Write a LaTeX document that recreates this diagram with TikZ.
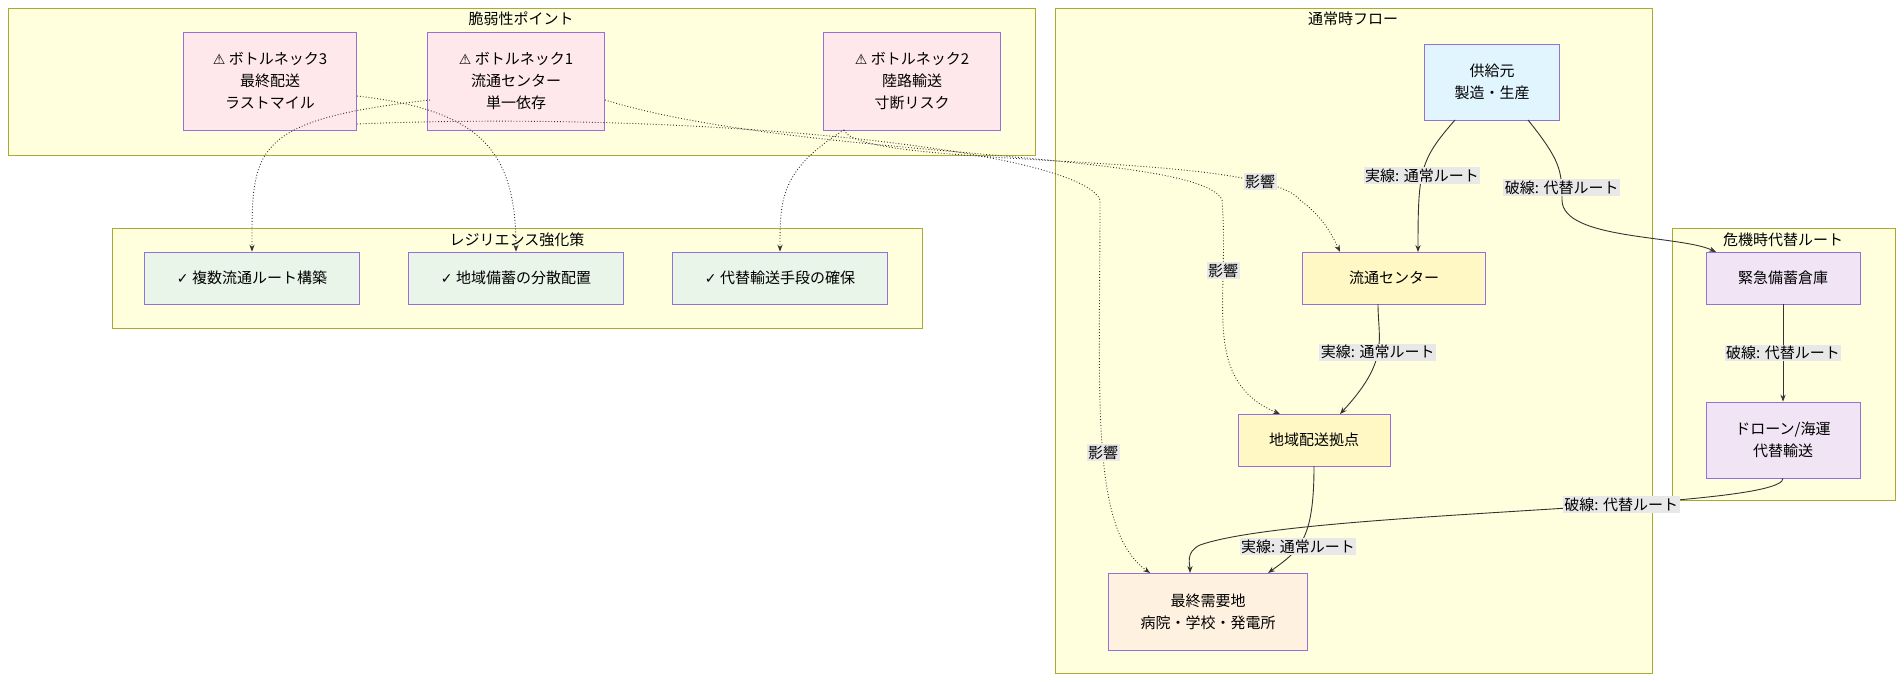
\documentclass[tikz,border=0pt]{standalone}
\usepackage{fontspec}
\setmainfont{Noto Sans CJK JP}
\newfontfamily\symfont{DejaVu Sans}
\usetikzlibrary{arrows.meta}
\definecolor{clfill}{HTML}{FFFFDE}
\definecolor{clline}{HTML}{AAAA33}
\definecolor{ndline}{HTML}{9370DB}
\definecolor{redfill}{HTML}{FFE8EC}
\definecolor{bluefill}{HTML}{E1F5FE}
\definecolor{yelfill}{HTML}{FFF8C5}
\definecolor{orfill}{HTML}{FFF1E0}
\definecolor{purfill}{HTML}{F1E4F5}
\definecolor{grnfill}{HTML}{E8F5E8}
\definecolor{lblfill}{HTML}{E8E8E8}
\newcommand{\warn}{{\symfont\fontsize{14}{16}\selectfont ⚠}}
\newcommand{\chk}{{\symfont\fontsize{14}{16}\selectfont ✓}}
\begin{document}
\begin{tikzpicture}[x=1pt,y=-1pt,
  font=\fontsize{15}{22}\selectfont,
  cluster/.style={draw=clline,fill=clfill,line width=0.8pt},
  ctitle/.style={font=\fontsize{15}{18}\selectfont},
  box/.style={draw=ndline,line width=0.8pt,align=center,inner sep=0pt},
  flow/.style={draw=black!80,line width=0.9pt,-{Stealth[length=7pt]}},
  effect/.style={draw=black!80,line width=0.9pt,dotted,-{Stealth[length=7pt]}},
  lbl/.style={fill=lblfill,inner sep=1.5pt,font=\fontsize{15}{18}\selectfont}]

  \useasboundingbox (0,0) rectangle (1904,682);

  % clusters
  \draw[cluster] (8,8) rectangle (1035,155);
  \node[ctitle] (tw) at (521,19) {脆弱性ポイント};
  \draw[cluster] (1055,8) rectangle (1652,673);
  \node[ctitle] (tn) at (1353,19) {通常時フロー};
  \draw[cluster] (112,228) rectangle (922,328);
  \node[ctitle] (tr) at (517,240) {レジリエンス強化策};
  \draw[cluster] (1672,228) rectangle (1895,500);
  \node[ctitle] (te) at (1783,240) {危機時代替ルート};

  % weak points
  \node[box,fill=redfill,minimum width=173pt,minimum height=98pt] (b3) at (270,81) {\warn\ ボトルネック3\\最終配送\\ラストマイル};
  \node[box,fill=redfill,minimum width=177pt,minimum height=98pt] (b1) at (516,81) {\warn\ ボトルネック1\\流通センター\\単一依存};
  \node[box,fill=redfill,minimum width=177pt,minimum height=98pt] (b2) at (912,81) {\warn\ ボトルネック2\\陸路輸送\\寸断リスク};

  % normal flow
  \node[box,fill=bluefill,minimum width=135pt,minimum height=76pt] (src) at (1492,82) {供給元\\製造・生産};
  \node[box,fill=yelfill,minimum width=183pt,minimum height=52pt] (dc) at (1394,278) {流通センター};
  \node[box,fill=yelfill,minimum width=152pt,minimum height=52pt] (reg) at (1314,440) {地域配送拠点};
  \node[box,fill=orfill,minimum width=199pt,minimum height=77pt] (fin) at (1208,612) {最終需要地\\病院・学校・発電所};

  % emergency route
  \node[box,fill=purfill,minimum width=154pt,minimum height=52pt] (emg) at (1783,278) {緊急備蓄倉庫};
  \node[box,fill=purfill,minimum width=154pt,minimum height=76pt] (drn) at (1783,440) {ドローン/海運\\代替輸送};

  % measures
  \node[box,fill=grnfill,minimum width=215pt,minimum height=52pt] (r1) at (252,278) {\chk\ 複数流通ルート構築};
  \node[box,fill=grnfill,minimum width=215pt,minimum height=52pt] (r2) at (516,278) {\chk\ 地域備蓄の分散配置};
  \node[box,fill=grnfill,minimum width=215pt,minimum height=52pt] (r3) at (780,278) {\chk\ 代替輸送手段の確保};

  % flows
  \draw[flow] (1455,120) .. controls (1420,160) and (1418,170) .. node[lbl,pos=0.55] {実線: 通常ルート} (1418,252);
  \draw[flow] (1528,120) .. controls (1560,160) and (1562,170) .. node[lbl,pos=0.85] {破線: 代替ルート} (1562,200) .. controls (1562,240) and (1680,235) .. (1716,252);
  \draw[flow] (1378,304) .. controls (1378,340) and (1390,360) .. node[lbl,pos=0.5] {実線: 通常ルート} (1340,414);
  \draw[flow] (emg) -- node[lbl] {破線: 代替ルート} (drn);
  \draw[flow] (1314,466) .. controls (1314,540) and (1300,550) .. node[lbl,pos=0.6] {実線: 通常ルート} (1268,573);
  \draw[flow] (drn.south) .. controls (1783,510) and (1300,510) .. node[lbl,pos=0.38] {破線: 代替ルート} (1200,545) .. controls (1185,552) and (1190,565) .. (1190,573);

  % effects
  \draw[effect] (430,100) .. controls (250,120) and (252,150) .. (r1.north);
  \draw[effect] (357,96) .. controls (480,110) and (516,150) .. (r2.north);
  \draw[effect] (844,130) .. controls (780,170) and (780,200) .. (r3.north);
  \draw[effect] (844,130) .. controls (860,170) and (1260,150) .. node[lbl,pos=0.85] {影響} (1300,200) .. controls (1320,215) and (1330,230) .. (1340,252);
  \draw[effect] (605,100) .. controls (800,160) and (1200,150) .. (1222,200) .. controls (1230,300) and (1200,380) .. node[lbl,pos=0.25] {影響} (1280,414);
  \draw[effect] (357,124) .. controls (700,110) and (1080,150) .. (1100,200) .. controls (1100,400) and (1090,530) .. node[lbl,pos=0.52] {影響} (1150,573);
\end{tikzpicture}
\end{document}
